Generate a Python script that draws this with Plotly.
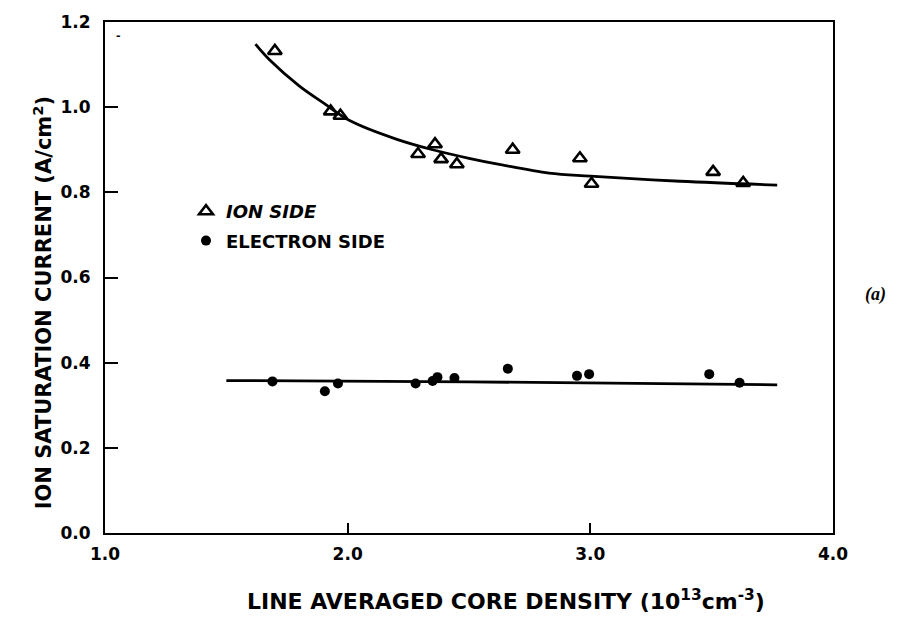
import plotly.graph_objects as go

# Measured ion saturation current vs. line-averaged core density
ion_x = [1.70, 1.93, 1.97, 2.29, 2.36, 2.385, 2.45, 2.68, 2.957, 3.005, 3.506, 3.63]
ion_y = [1.132, 0.99, 0.98, 0.89, 0.913, 0.878, 0.866, 0.90, 0.880, 0.820, 0.848, 0.822]

ele_x = [1.69, 1.906, 1.96, 2.28, 2.35, 2.37, 2.44, 2.66, 2.945, 2.995, 3.49, 3.615]
ele_y = [0.356, 0.333, 0.351, 0.351, 0.357, 0.366, 0.364, 0.386, 0.369, 0.373, 0.373, 0.353]

# Hand-drawn trend curves (knots)
ion_fit_x = [1.62, 1.68, 1.80, 1.90, 2.01, 2.20, 2.35, 2.50, 2.63, 2.83, 3.00, 3.37, 3.77]
ion_fit_y = [1.148, 1.11, 1.05, 1.01, 0.968, 0.925, 0.90, 0.88, 0.865, 0.845, 0.838, 0.826, 0.817]

ele_fit_x = [1.50, 2.50, 3.77]
ele_fit_y = [0.358, 0.355, 0.348]

x_ticks = [1.0, 2.0, 3.0, 4.0]
y_ticks = [0.0, 0.2, 0.4, 0.6, 0.8, 1.0, 1.2]

BOLD = "DejaVu Sans, Liberation Sans, sans-serif"

# plot area in pixels
L, R, T, B = 105, 66, 19, 91
W, H = 899, 624
PW, PH = W - L - R, H - T - B


def px_x(x):
    return (x - L) / PW


def px_y(y):
    return (H - B - y) / PH


fig = go.Figure()

fig.add_trace(go.Scatter(x=ion_fit_x, y=ion_fit_y, mode="lines",
                         line=dict(color="black", width=2.8, shape="spline", smoothing=1.0),
                         showlegend=False, hoverinfo="skip"))
fig.add_trace(go.Scatter(x=ele_fit_x, y=ele_fit_y, mode="lines",
                         line=dict(color="black", width=2.8, shape="spline"),
                         showlegend=False, hoverinfo="skip"))

fig.add_trace(go.Scatter(x=ion_x, y=ion_y, mode="markers", name="<i>ION SIDE</i>",
                         legendgroup="ion",
                         marker=dict(symbol="triangle-up-open", size=12, color="black",
                                     line=dict(width=2.6, color="black"))))
fig.add_trace(go.Scatter(x=ele_x, y=ele_y, mode="markers", name="ELECTRON SIDE",
                         legendgroup="ele",
                         marker=dict(symbol="circle", size=10, color="black")))

axis_common = dict(
    showline=True, linecolor="black", linewidth=2.2, mirror=True,
    ticks="inside", tickcolor="black", tickwidth=1.8,
    showgrid=False, zeroline=False,
    tickfont=dict(family=BOLD, size=17, color="black", weight="bold"),
)

fig.update_xaxes(range=[1.0, 4.0], tickvals=x_ticks,
                 ticktext=[f"{v:.1f}" for v in x_ticks], ticklen=10,
                 ticklabelstandoff=4, **axis_common)
fig.update_yaxes(range=[0.0, 1.2], tickvals=y_ticks,
                 ticktext=[f"{v:.1f}" for v in y_ticks], ticklen=13,
                 ticklabelstandoff=9, **axis_common)

# axis titles
fig.add_annotation(xref="paper", yref="paper", x=px_x(506), y=px_y(600),
                   xanchor="center", yanchor="middle", showarrow=False,
                   text="LINE AVERAGED CORE DENSITY (10<sup>13</sup>cm<sup>-3</sup>)",
                   font=dict(family=BOLD, size=22, color="black", weight="bold"))
fig.add_annotation(xref="paper", yref="paper", x=px_x(43), y=px_y(302),
                   xanchor="center", yanchor="middle", showarrow=False, textangle=-90,
                   text="ION SATURATION CURRENT (A/cm<sup>2</sup>)",
                   font=dict(family=BOLD, size=21, color="black", weight="bold"))

# Panel label
fig.add_annotation(xref="paper", yref="paper", x=px_x(875), y=px_y(293),
                   xanchor="center", yanchor="middle",
                   text="<i>(a)</i>", showarrow=False,
                   font=dict(family="Liberation Serif, serif", size=18, color="black", weight="bold"))

# small stray mark near the top-left corner
fig.add_annotation(xref="paper", yref="paper", x=px_x(118), y=px_y(33),
                   xanchor="center", yanchor="middle", text="-", showarrow=False,
                   font=dict(family=BOLD, size=11, color="black", weight="bold"))

fig.update_layout(
    width=W, height=H,
    margin=dict(l=L, r=R, t=T, b=B),
    plot_bgcolor="white", paper_bgcolor="white",
    showlegend=True,
    legend=dict(x=px_x(186), y=px_y(191), xanchor="left", yanchor="top",
                bgcolor="rgba(0,0,0,0)", itemwidth=30, tracegroupgap=3,
                font=dict(family=BOLD, size=18, color="black", weight="bold")),
)

fig.write_html("out.html")
